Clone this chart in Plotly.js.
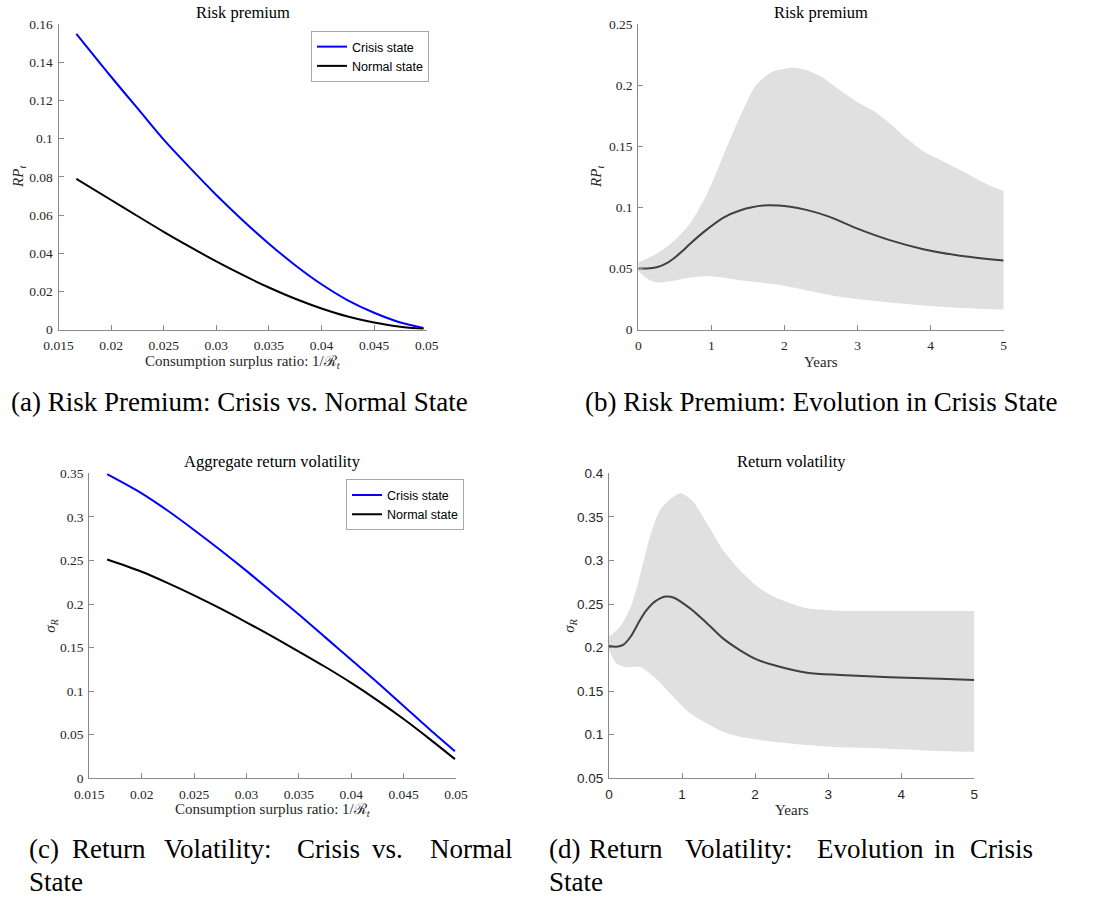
<!DOCTYPE html>
<html>
<head>
<meta charset="utf-8">
<script src="https://cdn.plot.ly/plotly-3.0.1.min.js"></script>
<style>
  html, body { margin: 0; padding: 0; background: #ffffff; }
  #chart { width: 1094px; height: 899px; }
</style>
</head>
<body>
<div id="chart"></div>
<script>
// ---- Panel (a): risk premium against the consumption surplus ratio ----
const surplusRatio = [0.0167, 0.02, 0.0225, 0.025, 0.0275, 0.03, 0.0325, 0.035, 0.0375, 0.04, 0.0425, 0.045, 0.0475, 0.0497];
const rpCrisis     = [0.155, 0.1325, 0.1160, 0.0995, 0.0847, 0.0705, 0.0573, 0.0450, 0.0337, 0.0237, 0.0153, 0.0088, 0.0037, 0.0008];
const rpNormal     = [0.079, 0.0679, 0.0595, 0.0512, 0.0433, 0.0357, 0.0286, 0.0220, 0.0161, 0.0110, 0.0068, 0.0037, 0.0014, 0.0003];

// ---- Panel (b): risk premium path after a crisis ----
const rpYears      = [0, 0.12, 0.25, 0.37, 0.48, 0.60, 0.71, 0.94, 1.16, 1.39, 1.71, 2.08, 2.30, 2.62, 2.99, 3.44, 3.90, 4.36, 5.0];
const rpMedian     = [0.050, 0.0500, 0.0510, 0.0537, 0.0580, 0.0640, 0.0703, 0.0820, 0.0915, 0.0975, 0.1015, 0.1005, 0.0980, 0.0923, 0.0828, 0.0732, 0.0658, 0.0609, 0.0565];
const rpUpperYears = [0, 0.25, 0.48, 0.71, 0.94, 1.16, 1.39, 1.62, 1.85, 2.12, 2.30, 2.53, 2.76, 2.99, 3.22, 3.44, 3.67, 3.90, 4.13, 4.36, 4.58, 4.81, 5.0];
const rpUpper      = [0.055, 0.062, 0.072, 0.087, 0.111, 0.142, 0.174, 0.201, 0.2115, 0.2145, 0.2125, 0.206, 0.196, 0.1866, 0.179, 0.169, 0.1566, 0.1460, 0.139, 0.132, 0.125, 0.118, 0.1134];
const rpLowerYears = [0, 0.11, 0.25, 0.48, 0.71, 0.94, 1.16, 1.39, 1.85, 2.30, 2.76, 3.22, 3.67, 4.13, 4.58, 5.0];
const rpLower      = [0.048, 0.042, 0.0385, 0.040, 0.0426, 0.0437, 0.0426, 0.0404, 0.0372, 0.0322, 0.0268, 0.0235, 0.0208, 0.0186, 0.0172, 0.0164];

// ---- Panel (c): aggregate return volatility against the surplus ratio ----
const volRatio     = [0.0167, 0.02, 0.0225, 0.025, 0.0275, 0.03, 0.0325, 0.035, 0.0375, 0.04, 0.0425, 0.045, 0.0475, 0.0499];
const volCrisis    = [0.349, 0.327, 0.307, 0.285, 0.262, 0.238, 0.213, 0.188, 0.162, 0.136, 0.110, 0.083, 0.056, 0.031];
const volNormal    = [0.251, 0.237, 0.224, 0.210, 0.195, 0.179, 0.1625, 0.1455, 0.128, 0.1095, 0.0895, 0.068, 0.045, 0.022];

// ---- Panel (d): return volatility path after a crisis ----
const volYears      = [0, 0.10, 0.20, 0.30, 0.40, 0.50, 0.60, 0.70, 0.78, 0.88, 1.11, 1.34, 1.56, 1.79, 2.02, 2.25, 2.71, 3.16, 3.62, 4.07, 4.53, 5.0];
const volMedian     = [0.2018, 0.2010, 0.2035, 0.2130, 0.2280, 0.2415, 0.2510, 0.2565, 0.2585, 0.2575, 0.245, 0.228, 0.2106, 0.1972, 0.1865, 0.180, 0.1712, 0.1686, 0.1667, 0.1655, 0.1643, 0.1628];
const volUpperYears = [0, 0.15, 0.29, 0.42, 0.56, 0.70, 0.88, 0.99, 1.15, 1.34, 1.56, 1.79, 2.02, 2.25, 2.48, 2.71, 3.16, 3.62, 5.0];
const volUpper      = [0.2126, 0.224, 0.245, 0.2814, 0.327, 0.358, 0.373, 0.377, 0.3675, 0.3426, 0.312, 0.289, 0.2707, 0.2585, 0.2508, 0.245, 0.2424, 0.242, 0.242];
const volLowerYears = [0, 0.10, 0.24, 0.42, 0.61, 0.88, 1.11, 1.34, 1.56, 1.79, 2.25, 2.71, 3.16, 3.62, 4.30, 5.0];
const volLower      = [0.197, 0.182, 0.1774, 0.178, 0.1667, 0.1437, 0.1246, 0.113, 0.1035, 0.0978, 0.092, 0.0882, 0.0855, 0.0844, 0.082, 0.0805];

// ---- text ----
const legendNames = ['Crisis state', 'Normal state'];

// ---- page geometry helpers (pixels -> paper fraction) ----
const W = 1094, H = 899;
const fx = p => p / W;
const fy = p => 1 - p / H;

const SERIF = 'Liberation Serif, Times New Roman, serif';
const SANS = 'Liberation Sans, Arial, Helvetica, sans-serif';
const AXIS_GRAY = '#8a8a8a';
const TICK_TEXT = '#262626';
const BAND = '#e0e0e0';
const MEDIAN = '#404040';

function band(xl, yl, xu, yu, xa, ya) {
  // lower edge first, then the upper edge filled down onto it
  return [
    { x: xl, y: yl, xaxis: xa, yaxis: ya, type: 'scatter', mode: 'lines', showlegend: false, hoverinfo: 'skip',
      line: { width: 0, color: 'rgba(0,0,0,0)', shape: 'spline', smoothing: 0.7 } },
    { x: xu, y: yu, xaxis: xa, yaxis: ya, type: 'scatter', mode: 'lines', showlegend: false, hoverinfo: 'skip',
      fill: 'tonexty', fillcolor: BAND,
      line: { width: 0, color: 'rgba(0,0,0,0)', shape: 'spline', smoothing: 0.7 } }
  ];
}

const curve = (x, y, xa, ya, color, name, leg) => ({
  x: x, y: y, xaxis: xa, yaxis: ya, type: 'scatter', mode: 'lines', name: name, legend: leg,
  line: { color: color, width: 2, shape: 'spline', smoothing: 0.8 }
});

const traces = [
  curve(surplusRatio, rpCrisis, 'x', 'y', '#0000ff', legendNames[0], 'legend'),
  curve(surplusRatio, rpNormal, 'x', 'y', '#000000', legendNames[1], 'legend'),
  ...band(rpLowerYears, rpLower, rpUpperYears, rpUpper, 'x2', 'y2'),
  Object.assign(curve(rpYears, rpMedian, 'x2', 'y2', MEDIAN, 'median'), { showlegend: false }),
  curve(volRatio, volCrisis, 'x3', 'y3', '#0000ff', legendNames[0], 'legend2'),
  curve(volRatio, volNormal, 'x3', 'y3', '#000000', legendNames[1], 'legend2'),
  ...band(volLowerYears, volLower, volUpperYears, volUpper, 'x4', 'y4'),
  Object.assign(curve(volYears, volMedian, 'x4', 'y4', MEDIAN, 'median'), { showlegend: false })
];

function axis(extra, font, isX) {
  return Object.assign({
    showline: true, linecolor: AXIS_GRAY, linewidth: 1,
    ticks: 'inside', ticklen: 5, tickwidth: 1, tickcolor: AXIS_GRAY,
    showgrid: false, zeroline: false, fixedrange: true,
    ticklabelstandoff: isX ? 3 : 2,
    tickfont: { family: font || SERIF, size: 13.5, color: TICK_TEXT }
  }, extra);
}

// plot boxes in pixels: [left, right, top, bottom]
const boxA = [58.5, 426.7, 24.3, 329.5];
const boxB = [638.3, 1003.7, 24.3, 329.5];
const boxC = [89.3, 456.0, 473.3, 778.3];
const boxD = [609.0, 974.3, 473.3, 778.3];

const legendStyle = {
  xanchor: 'left', yanchor: 'top', bgcolor: '#ffffff', bordercolor: '#a8a8a8', borderwidth: 1,
  font: { family: SANS, size: 12.5, color: '#000000' }, itemwidth: 30, tracegroupgap: 0,
  traceorder: 'normal'
};

const annotations = [];
function label(text, x, y, size, extra) {
  annotations.push(Object.assign({
    text: text, xref: 'paper', yref: 'paper', x: fx(x), y: fy(y),
    xanchor: 'center', yanchor: 'middle', showarrow: false,
    font: { family: SERIF, size: size, color: '#000000' }
  }, extra || {}));
}
const cx = b => (b[0] + b[1]) / 2;
const cy = b => (b[2] + b[3]) / 2;

// panel titles
label('Risk premium', cx(boxA), 12.7, 16.5);
label('Risk premium', cx(boxB), 12.7, 16.5);
label('Aggregate return volatility', cx(boxC), 461.7, 16.5);
label('Return volatility', cx(boxD), 461.7, 16.5);

// axis titles
const axisFont = { family: SERIF, size: 15, color: TICK_TEXT };
const xRatioTitle = 'Consumption surplus ratio: 1/ℛ<sub><i>t</i></sub>';
label(xRatioTitle, cx(boxA), 361.7, 15, { font: axisFont });
label('Years', cx(boxB), 361.7, 15, { font: axisFont });
label(xRatioTitle, cx(boxC), 810, 15, { font: axisFont });
label('Years', cx(boxD), 810, 15, { font: axisFont });

const rpTitle = '<i>RP</i><sub><i>t</i></sub>';
const sigTitle = '<i>σ</i><sub><i>R</i></sub>';
label(rpTitle, 19, cy(boxA), 15, { textangle: -90, font: axisFont });
label(rpTitle, 597, cy(boxB), 15, { textangle: -90, font: axisFont });
label(sigTitle, 51, cy(boxC), 15, { textangle: -90, font: axisFont });
label(sigTitle, 570, cy(boxD), 15, { textangle: -90, font: axisFont });

// sub-figure captions; the two-line ones are justified word by word
const CAP = 27;
function words(list, y) {
  list.forEach(w => label(w[0], w[1], y, CAP, { xanchor: 'left' }));
}
label('(a) Risk Premium: Crisis vs. Normal State', 239.5, 401.5, CAP);
label('(b) Risk Premium: Evolution in Crisis State', 821, 401.5, CAP);
words([['(c)', 27], ['Return', 70], ['Volatility:', 162], ['Crisis', 295], ['vs.', 370], ['Normal', 428]], 848.5);
words([['State', 27]], 882);
words([['(d)', 547], ['Return', 587], ['Volatility:', 683], ['Evolution', 815], ['in', 932], ['Crisis', 968]], 848.5);
words([['State', 547]], 882);

const layout = {
  width: W, height: H,
  margin: { l: 0, r: 0, t: 0, b: 0, pad: 0 },
  paper_bgcolor: '#ffffff', plot_bgcolor: 'rgba(0,0,0,0)',
  showlegend: true,
  font: { family: SERIF, color: TICK_TEXT },

  xaxis:  axis({ domain: [fx(boxA[0]), fx(boxA[1])], range: [0.015, 0.05], tick0: 0.015, dtick: 0.005, anchor: 'y' }, SERIF, true),
  yaxis:  axis({ domain: [fy(boxA[3]), fy(boxA[2])], range: [0, 0.16], tick0: 0, dtick: 0.02, anchor: 'x' }),
  xaxis2: axis({ domain: [fx(boxB[0]), fx(boxB[1])], range: [0, 5], tick0: 0, dtick: 1, anchor: 'y2' }, SERIF, true),
  yaxis2: axis({ domain: [fy(boxB[3]), fy(boxB[2])], range: [0, 0.25], tick0: 0, dtick: 0.05, anchor: 'x2' }),
  xaxis3: axis({ domain: [fx(boxC[0]), fx(boxC[1])], range: [0.015, 0.05], tick0: 0.015, dtick: 0.005, anchor: 'y3' }, SERIF, true),
  yaxis3: axis({ domain: [fy(boxC[3]), fy(boxC[2])], range: [0, 0.35], tick0: 0, dtick: 0.05, anchor: 'x3' }),
  xaxis4: axis({ domain: [fx(boxD[0]), fx(boxD[1])], range: [0, 5], tick0: 0, dtick: 1, anchor: 'y4' }, SANS, true),
  yaxis4: axis({ domain: [fy(boxD[3]), fy(boxD[2])], range: [0.05, 0.4], tick0: 0.05, dtick: 0.05, anchor: 'x4' }, SANS),

  legend:  Object.assign({ x: fx(311), y: fy(31) }, legendStyle),
  legend2: Object.assign({ x: fx(346), y: fy(479.3) }, legendStyle),

  annotations: annotations
};

Plotly.newPlot('chart', traces, layout, { displayModeBar: false, staticPlot: true });
</script>
</body>
</html>
